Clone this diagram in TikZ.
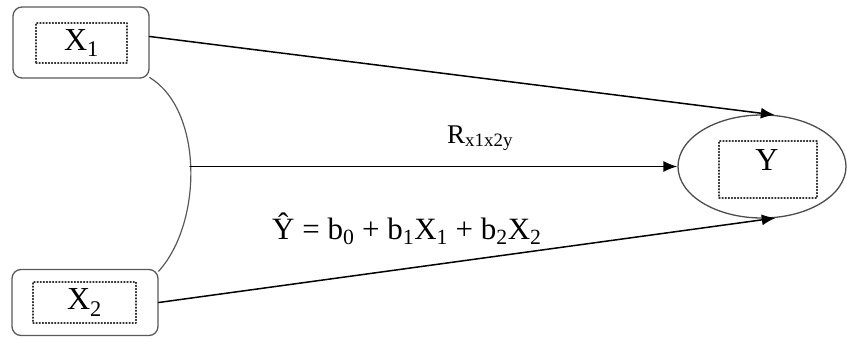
\documentclass[tikz,border=0pt]{standalone}
\usepackage{fontspec}
\setmainfont{Liberation Serif}
\usetikzlibrary{arrows.meta,shapes.geometric}

\begin{document}
\begin{tikzpicture}[
    x=1pt,
    y=-1pt,
    line cap=round,
    line join=round,
    outerbox/.style={draw=black!65,line width=1.3pt,rounded corners=9pt,inner sep=0pt},
    dotbox/.style={draw=black!80,line width=1.1pt,dotted,inner sep=0pt},
    oval/.style={draw=black!70,line width=1.3pt,ellipse,inner sep=0pt},
    conn/.style={line width=1.5pt,-{Latex[length=14pt,width=11pt]}},
    bigtext/.style={font=\fontsize{32}{36}\selectfont}
]

% =========================================================
% Frame of the picture
% =========================================================

\useasboundingbox (0,0) rectangle (847,338);

% =========================================================
% Predictors X1 and X2
% =========================================================

\node[outerbox,minimum width=136pt,minimum height=71pt] (x1) at (81,42.5) {};
\node[dotbox,bigtext,minimum width=91pt,minimum height=40pt] (x1in) at (81.5,43) {X\textsubscript{1}};

\node[outerbox,minimum width=146pt,minimum height=66pt] (x2) at (85,302.5) {};
\node[dotbox,bigtext,minimum width=103pt,minimum height=41pt] (x2in) at (84.5,302.5) {X\textsubscript{2}};

% =========================================================
% Response Y
% =========================================================

\node[oval,minimum width=168pt,minimum height=103pt] (y) at (762,166.5) {};
\node[dotbox,minimum width=98pt,minimum height=57pt] (yin) at (768,169.5) {};
\node[bigtext,inner sep=0pt] (ylab) at (767,160) {Y};

% =========================================================
% Correlation arc between X1 and X2
% =========================================================

\coordinate (mid) at (190,166.5);
\draw[black!65,line width=1.2pt]
    (x1.-27) .. controls (203,110) and (203,222) .. (x2.23);

% =========================================================
% Arrows to Y
% =========================================================

\draw[conn] (x1.5) -- (y.76);
\draw[conn] (mid) -- (y.west);
\draw[conn] (x2.east) -- (y.-75);

% =========================================================
% Labels
% =========================================================

\node[anchor=base west,inner sep=0pt,font=\fontsize{27}{30}\selectfont] (rlab) at (447,143)
    {R\textsubscript{x1x2y}};
\node[anchor=base west,inner sep=0pt,font=\fontsize{31}{34}\selectfont] (eqlab) at (272,239)
    {\^{Y} = b\textsubscript{0} + b\textsubscript{1}X\textsubscript{1} + b\textsubscript{2}X\textsubscript{2}};

\end{tikzpicture}
\end{document}
